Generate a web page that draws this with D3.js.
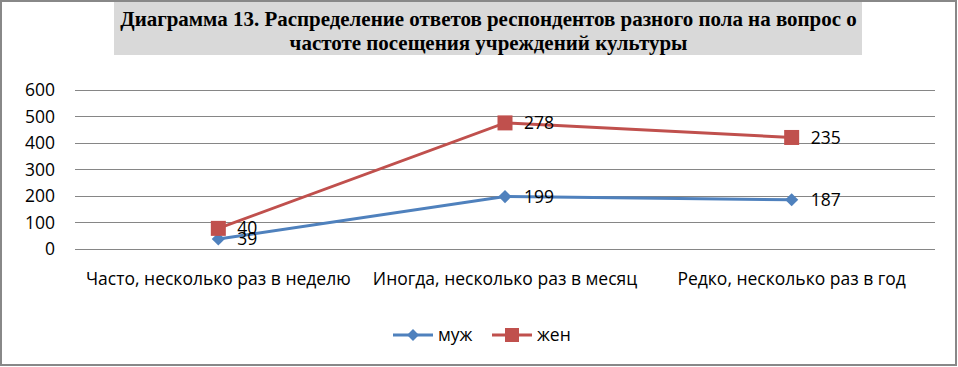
<!DOCTYPE html>
<html><head><meta charset="utf-8">
<script src="https://cdn.jsdelivr.net/npm/d3@7"></script>
<style>body{margin:0;background:#fff}svg{display:block}</style>
</head><body>
<svg id="c" width="958" height="367"></svg>
<script>
const titleLines = ["Диаграмма 13. Распределение ответов респондентов разного пола на вопрос о","частоте посещения учреждений культуры"];
const categories = ["Часто, несколько раз в неделю","Иногда, несколько раз в месяц","Редко, несколько раз в год"];
const seriesNames = ["муж","жен"];
const male = [39,199,187];
const female = [40,278,235];
const yTicks = [0,100,200,300,400,500,600];
const colors = ["#4f81bd","#c0504d"];

const svg = d3.select("#c");
const font = "'Open Sans', sans-serif";
const fs = "17.5px";
svg.append("rect").attr("x",1).attr("y",1).attr("width",955).attr("height",364)
  .attr("fill","#fff").attr("stroke","#888").attr("stroke-width",2);

// title
svg.append("rect").attr("x",114).attr("y",2).attr("width",748).attr("height",53).attr("fill","#d9d9d9");
const tg = svg.append("g");
const t1 = tg.append("text").attr("y",26).attr("text-anchor","middle")
  .style("font-family","'Liberation Serif', serif").style("font-weight","bold").style("font-size","21px").text(titleLines[0]);
const t2 = tg.append("text").attr("y",50).attr("text-anchor","middle")
  .style("font-family","'Liberation Serif', serif").style("font-weight","bold").style("font-size","21px").text(titleLines[1]);
const w1 = t1.node().getComputedTextLength();
const sx = 737 / w1;
tg.attr("transform",`translate(488.5,0) scale(${sx},1)`);

const x = d3.scaleBand().domain(categories).range([75,935]);
const y = d3.scaleLinear().domain([0,600]).range([249.3,90.3]);

// grid
svg.append("g").selectAll("line").data(yTicks).join("line")
  .attr("x1",75).attr("x2",935).attr("y1",d=>y(d)).attr("y2",d=>y(d))
  .attr("stroke","#868686").attr("stroke-width",1).attr("shape-rendering","crispEdges");

const yAxis = svg.append("g").attr("transform","translate(75,0)")
  .call(d3.axisLeft(y).tickValues(yTicks).tickSize(0).tickPadding(20));
yAxis.select(".domain").remove();
yAxis.selectAll("text").style("font-family",font).style("font-size",fs).attr("fill","#000");

const xAxis = svg.append("g").attr("transform","translate(0,249.3)")
  .call(d3.axisBottom(x).tickSize(0).tickPadding(23));
xAxis.select(".domain").remove();
xAxis.selectAll("text").style("font-family",font).style("font-size",fs).attr("fill","#000");

// stacked series
const rows = categories.map((c,i)=>({cat:c, "муж":male[i], "жен":female[i]}));
const stack = d3.stack().keys(seriesNames)(rows);
const cx = d => x(d.data.cat) + x.bandwidth()/2;

const line = d3.line().x(cx).y(d=>y(d[1]));
stack.forEach((s,si)=>{
  svg.append("path").datum(s).attr("d",line).attr("fill","none")
    .attr("stroke",colors[si]).attr("stroke-width",3);
});
stack.forEach((s,si)=>{
  const g = svg.append("g");
  if (si===0) {
    g.selectAll("path").data(s).join("path")
      .attr("d", d3.symbol().type(d3.symbolDiamond2).size(110))
      .attr("transform", d=>`translate(${cx(d)},${y(d[1])})`).attr("fill",colors[si]);
  } else {
    g.selectAll("rect").data(s).join("rect")
      .attr("x", d=>cx(d)-7.5).attr("y", d=>y(d[1])-7.5).attr("width",15).attr("height",15)
      .attr("fill",colors[si]);
  }
  g.selectAll("text").data(s).join("text")
    .attr("x", d=>cx(d)+19).attr("y", d=>y(d[1])).attr("dy","0.35em")
    .style("font-family",font).style("font-size",fs).text(d=>d.data[seriesNames[si]]);
});

// legend
const legX = [393, 492];
seriesNames.forEach((n,i)=>{
  const g = svg.append("g").attr("transform",`translate(${legX[i]},335)`);
  g.append("line").attr("x1",0).attr("x2",40).attr("stroke",colors[i]).attr("stroke-width",3);
  if (i===0) g.append("path").attr("d", d3.symbol().type(d3.symbolDiamond2).size(90)).attr("transform","translate(20,0)").attr("fill",colors[i]);
  else g.append("rect").attr("x",13).attr("y",-7).attr("width",14).attr("height",14).attr("fill",colors[i]);
  g.append("text").attr("x",45).attr("dy","0.35em").style("font-family",font).style("font-size",fs).text(n);
});
</script>
</body></html>
